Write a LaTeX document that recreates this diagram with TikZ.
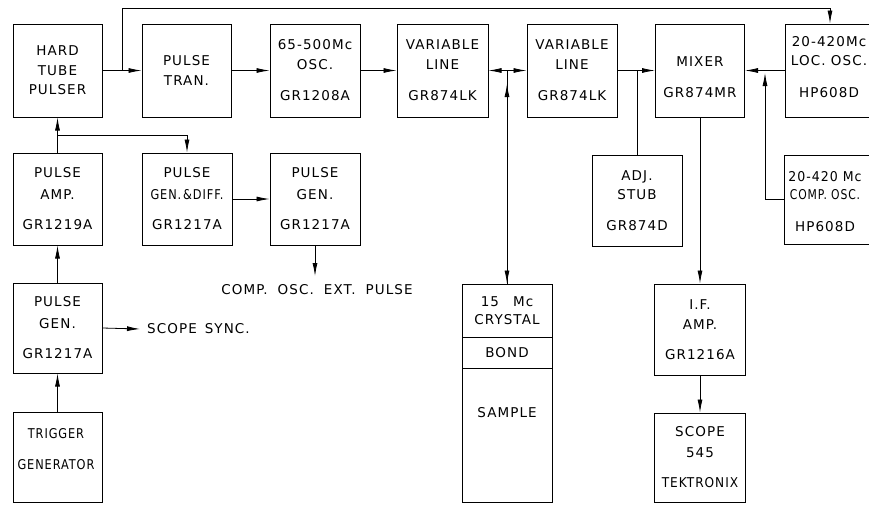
\documentclass[tikz,border=0pt]{standalone}
\usepackage{fontspec}
\newfontfamily\lab[LetterSpace=8]{DejaVu Sans}
\usetikzlibrary{arrows.meta}
\begin{document}
\begin{tikzpicture}[x=1pt,y=-1pt,
  blk/.style={draw, line width=1pt, inner sep=0pt, align=center,
    font=\lab\fontsize{13.5}{16.5}\selectfont},
  lbl/.style={inner sep=0pt, align=center, font=\lab\fontsize{13.5}{16.5}\selectfont},
  wire/.style={line width=0.8pt},
  arr/.style={line width=0.8pt, -{Latex[length=13pt,width=5pt]}}]
\fill[white] (0,0) rectangle (869,504);
\useasboundingbox (0,0) rectangle (869,504);
% top row
\node[blk, minimum width=89pt, minimum height=93pt] (hard) at (57.5,70.5) {HARD\\[3pt]TUBE\\[3pt]PULSER};
\node[blk, minimum width=89pt, minimum height=93pt] (tran) at (186.5,70.5) {PULSE\\[4pt]TRAN.};
\node[blk, minimum width=90pt, minimum height=93pt] (osc) at (315,70.5) {65-500Mc\\[3pt]OSC.\\[15pt]GR1208A};
\node[blk, minimum width=91pt, minimum height=93pt] (var1) at (442.5,70.5) {VARIABLE\\[3pt]LINE\\[15pt]GR874LK};
\node[blk, minimum width=90pt, minimum height=93pt] (var2) at (572,70.5) {VARIABLE\\[3pt]LINE\\[15pt]GR874LK};
\node[blk, minimum width=89pt, minimum height=93pt] (mixer) at (700,70.5) {};
\node[lbl] (mixert) at (700,77) {MIXER\\[15pt]GR874MR};
\node[blk, minimum width=90pt, minimum height=93pt] (loc) at (830,70.5) {};
\node[lbl] (loct) at (829,67) {20-420Mc\\[3pt]LOC. OSC.\\[15pt]HP608D};
% second row
\node[blk, minimum width=89pt, minimum height=92pt] (pamp) at (57.5,199) {PULSE\\[5pt]AMP.\\[14pt]GR1219A};
\node[blk, minimum width=90pt, minimum height=92pt] (pgd) at (187,199) {PULSE\\[5pt]\scalebox{0.84}[1]{GEN.\,\&DIFF.}\\[14pt]GR1217A};
\node[blk, minimum width=90pt, minimum height=92pt] (pg2) at (315,199) {PULSE\\[5pt]GEN.\\[14pt]GR1217A};
\node[blk, minimum width=90pt, minimum height=91pt] (stub) at (637,200.5) {ADJ.\\[3pt]STUB\\[14pt]GR874D};
\node[blk, minimum width=92pt, minimum height=89pt] (comp) at (830,199.5) {};
\node[lbl] (compt) at (825,202) {\scalebox{0.93}[1]{20-420 Mc}\\[1pt]\scalebox{0.8}[1]{COMP. OSC.}\\[16pt]HP608D};
% third row
\node[blk, minimum width=89pt, minimum height=90pt] (pg1) at (57.5,328) {PULSE\\[5pt]GEN.\\[14pt]GR1217A};
\node[blk, minimum width=89pt, minimum height=90pt] (trig) at (57.5,457) {};
\node[lbl] (trigt) at (56,449) {\scalebox{0.84}[1]{TRIGGER}\\[15pt]\scalebox{0.84}[1]{GENERATOR}};
\node[blk, minimum width=90pt, minimum height=53pt] (crys) at (507,310.5) {15\hspace{14pt}Mc\\[2pt]CRYSTAL};
\node[blk, minimum width=90pt, minimum height=31pt] (bond) at (507,352.5) {BOND};
\node[blk, minimum width=90pt, minimum height=134pt, text height=7pt, text depth=42pt] (sample) at (507,435) {SAMPLE};
\node[blk, minimum width=91pt, minimum height=91pt] (ifamp) at (700,329.5) {I.F.\\[4pt]AMP.\\[13pt]GR1216A};
\node[blk, minimum width=91pt, minimum height=89pt] (scope) at (700,457.5) {SCOPE\\[4pt]545\\[14pt]\scalebox{0.9}[1]{TEKTRONIX}};
% free labels
\node[lbl] (cosc) at (317,290) {COMP.\hspace{10pt}OSC.\hspace{10pt}EXT.\hspace{10pt}PULSE};
\node[lbl, anchor=west] (ssync) at (147,329) {SCOPE\hspace{8pt}SYNC.};
% coordinates
\coordinate (fbj) at (122,70.5);
\coordinate (fbr) at (830,8);
\coordinate (j1) at (507,70.5);
\coordinate (j1a) at (507,84);
\coordinate (j2) at (637,70.5);
\coordinate (j3a) at (765,73);
\coordinate (j4) at (57.5,135);
\coordinate (cop) at (315,276);
\coordinate (ss) at (140,329);
% connectors top row
\draw[arr] (hard.east) -- (tran.west);
\draw[arr] (fbj) |- (fbr) -- (loc.north);
\draw[arr] (tran.east) -- (osc.west);
\draw[arr] (osc.east) -- (var1.west);
\draw[arr] (j1) -- (var1.east);
\draw[arr] (j1) -- (var2.west);
\draw[arr] (j1) -- (crys.north);
\draw[arr] (crys.north) -- (j1a);
\draw[arr] (var2.east) -- (mixer.west);
\draw[wire] (j2) -- (stub.north);
\draw[arr] (loc.west) -- (mixer.east);
\draw[arr] (comp.west) -| (j3a);
\draw[arr] (mixer.south) -- (ifamp.north);
\draw[arr] (ifamp.south) -- (scope.north);
% left side
\draw[arr] (pamp.north) -- (hard.south);
\draw[arr] (j4) -| (pgd.north);
\draw[arr] (pgd.east) -- (pg2.west);
\draw[arr] (pg2.south) -- (cop);
\draw[arr] (pg1.north) -- (pamp.south);
\draw[arr] (trig.north) -- (pg1.south);
\draw[arr] (pg1.east) -- (ss);
\end{tikzpicture}
\end{document}
